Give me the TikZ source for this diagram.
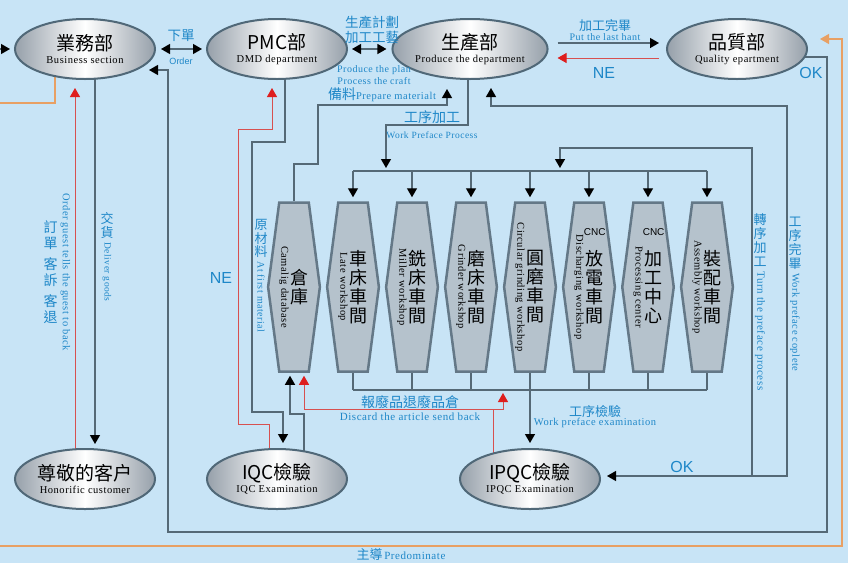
\documentclass[tikz,border=0pt]{standalone}
\usepackage{fontspec}
\usepackage{graphicx}
\setmainfont{Liberation Serif}[LetterSpace=5]
\newfontfamily\cjk{Noto Sans CJK TC}
\newfontfamily\arial{Liberation Sans}
\usetikzlibrary{arrows.meta,shapes.geometric,shapes.symbols,backgrounds}

\definecolor{bgblue}{RGB}{200,228,246}
\definecolor{ellgray}{RGB}{150,160,170}
\definecolor{elledge}{RGB}{80,104,120}
\definecolor{hexfill}{RGB}{181,194,204}
\definecolor{hexedge}{RGB}{100,120,135}
\definecolor{linegray}{RGB}{85,105,118}
\definecolor{lblue}{RGB}{30,135,200}
\definecolor{linered}{RGB}{215,80,80}
\definecolor{tipred}{RGB}{222,30,30}
\definecolor{lineorng}{RGB}{232,160,100}

\newcommand{\vc}[1]{$\vcenter{\hbox{#1}}$}
\newcommand{\rot}[1]{\rotatebox{-90}{#1}}
\newcommand{\cnt}[2]{{\cjk\fontsize{#1}{#1}\selectfont #2}}
\newcommand{\ent}[2]{{\rmfamily\fontsize{#1}{#1}\selectfont #2}}
\newcommand{\cstack}[2]{\vbox{\baselineskip=#1\lineskiplimit=-\maxdimen\let\\\cr\halign{\hfil##\hfil\cr#2\crcr}}}
\newcommand{\shop}[2]{\vc{\rot{\ent{10.5}{#1}}}\hspace{2pt}\vc{\cjk\fontsize{18}{18}\selectfont\cstack{19pt}{#2}}}
\newcommand{\vlab}[4]{\cstack{#1}{#2\\\noalign{\vskip-9pt}\rot{\ent{#3}{#4}}}}
\newcommand{\cnc}{\makebox[0pt][l]{\makebox[18pt]{\raisebox{30pt}[0pt][0pt]{\arial\fontsize{10}{10}\selectfont CNC}}}}

\tikzset{
  ellbox/.style={ellipse, draw=elledge, line width=2pt, left color=ellgray,
    right color=ellgray, middle color=white, minimum width=140pt,
    minimum height=60pt, inner sep=0pt, align=center,
    font=\fontsize{10.5}{12.5}\selectfont},
  hexbox/.style={signal, signal to=west and east, signal pointer angle=165,
    draw=hexedge, line width=2.5pt, fill=hexfill, minimum width=51pt,
    minimum height=169pt, inner sep=0pt},
  gline/.style={draw=linegray, line width=1.3pt},
  rline/.style={draw=linered, line width=1pt},
  oline/.style={draw=lineorng, line width=1.2pt},
  arr/.style={-{Triangle[width=10pt,length=9pt,color=black]}},
  darr/.style={{Triangle[width=10pt,length=9pt,color=black]}-{Triangle[width=10pt,length=9pt,color=black]}},
  rarr/.style={-{Triangle[width=10pt,length=9pt,color=tipred]}},
  oarr/.style={-{Triangle[width=10pt,length=9pt,color=lineorng]}},
  lbl/.style={text=lblue, inner sep=0pt, align=center},
}

\begin{document}
\begin{tikzpicture}[x=1pt,y=-1pt]
\useasboundingbox (0,0) rectangle (848,563);

% departments
\node[ellbox] (ywb) at (85,49) {\cnt{19}{業務部}\\Business section};
\node[ellbox] (pmc) at (277,49) {\cnt{19}{PMC部}\\DMD department};
\node[ellbox] (scb) at (470,49) {\cnt{19}{生產部}\\Produce the department};
\node[ellbox] (pzb) at (737,49) {\cnt{19}{品質部}\\Quality epartment};

\node[ellbox] (kh) at (85,479) {\cnt{19}{尊敬的客户}\\Honorific customer};
\node[ellbox] (iqc) at (277,479) {\cnt{19}{IQC檢驗}\\IQC Examination};
\node[ellbox] (ipqc) at (530,479) {\cnt{19}{IPQC檢驗}\\IPQC Examination};

% workshops
\node[hexbox] (ck) at (294,287) {\shop{Camalig database}{倉\\庫}};
\node[hexbox] (s1) at (353,287) {\shop{Late workshop}{車\\床\\車\\間}};
\node[hexbox] (s2) at (412,287) {\shop{Miller workshop}{銑\\床\\車\\間}};
\node[hexbox] (s3) at (471,287) {\shop{Grinder workshop}{磨\\床\\車\\間}};
\node[hexbox] (s4) at (530,287) {\shop{Circular grinding workshop}{圓\\磨\\車\\間}};
\node[hexbox] (s5) at (589,287) {\shop{Discharging workshop}{\cnc 放\\電\\車\\間}};
\node[hexbox] (s6) at (648,287) {\shop{Processing center}{\cnc 加\\工\\中\\心}};
\node[hexbox] (s7) at (707,287) {\shop{Assembly workshop}{裝\\配\\車\\間}};

% labels
\node[lbl] (xd) at (181,36) {\cnt{13.5}{下單}};
\node[lbl,font=\arial\fontsize{9}{9}\selectfont] (od) at (181,61) {Order};
\node[lbl,font=\cjk\fontsize{13.5}{15.5}\selectfont] (jh) at (372,30) {生產計劃\\加工工藝};
\node[lbl,font=\fontsize{10}{11.5}\selectfont] (pp) at (374,75) {Produce the plan\\Process the craft};
\node[lbl,font=\fontsize{10}{10}\selectfont] (wb) at (605,30) {\cnt{13}{加工完畢}\\Put the last hant};
\node[lbl,font=\arial\fontsize{16}{16}\selectfont] (ne1) at (604,73) {NE};
\node[lbl,font=\arial\fontsize{16}{16}\selectfont] (ok1) at (811,73) {OK};
\node[lbl] (bl) at (382,95) {\cnt{14}{備料}\ent{10.5}{Prepare materialt}};
\node[lbl,font=\fontsize{9.5}{16}\selectfont] (gx) at (432,125) {\cnt{14}{工序加工}\\Work Preface Process};
\node[lbl] (dd) at (57,272) {\vc{\cjk\fontsize{14}{14}\selectfont\cstack{16pt}{訂\\單\\\noalign{\vskip5pt}客\\訴\\\noalign{\vskip5pt}客\\退}}\hspace{3pt}\vc{\rot{\ent{10.5}{Order guest tells the guest to back}}}};
\node[lbl,font=\cjk\fontsize{13}{13}\selectfont] (jhv) at (107,257) {\vlab{14pt}{交\\貨}{9.5}{Deliver goods}};
\node[lbl,font=\cjk\fontsize{13}{13}\selectfont] (ycl) at (261,276) {\vlab{13.5pt}{原\\材\\料}{10}{At first material}};
\node[lbl,font=\arial\fontsize{16}{16}\selectfont] (ne2) at (221,278) {NE};
\node[lbl,font=\cjk\fontsize{13}{13}\selectfont] (zx) at (760,302) {\vlab{14pt}{轉\\序\\加\\工}{11}{Turn the preface process}};
\node[lbl,font=\cjk\fontsize{13}{13}\selectfont] (wc) at (795,294) {\vlab{14pt}{工\\序\\完\\畢}{10.5}{Work preface coplete}};
\node[lbl,font=\fontsize{11}{13.5}\selectfont] (bf) at (410,408) {\cnt{14}{報廢品退廢品倉}\\Discard the article send back};
\node[lbl,font=\fontsize{10.5}{9}\selectfont] (gj) at (595,417) {\cnt{13}{工序檢驗}\\Work preface examination};
\node[lbl,font=\arial\fontsize{16}{16}\selectfont] (ok2) at (682,467) {OK};
\node[lbl] (zd) at (401,555) {\cnt{13}{主導}\,\ent{11}{Predominate}};

% junctions
\coordinate (tb) at (0,171);
\coordinate (bb) at (0,390);
\coordinate (lin) at (0,49);
\coordinate (ol) at (0,103);
\coordinate (ob) at (0,546);
\coordinate (wp) at (386,171);
\coordinate (rw) at (560,171);
\coordinate (rj) at (493,409);
\coordinate (rb) at (503,390);
\coordinate (okj) at (752,476);

\begin{pgfonlayer}{background}
\fill[bgblue] (0,0) rectangle (848,563);

\draw[gline,arr,shorten >=4pt] (lin) -- (ywb);
\draw[gline,darr,shorten <=5pt,shorten >=4pt] (ywb) -- (pmc);
\draw[gline,darr,shorten <=4pt,shorten >=5pt] (pmc) -- (scb);
\draw[gline,arr,shorten <=9pt,shorten >=7pt] ([yshift=6pt]scb.east) -- ([yshift=6pt]pzb.west);
\draw[rline,rarr,shorten <=7pt,shorten >=9pt] ([yshift=-9pt]pzb.west) -- ([yshift=-9pt]scb.east);
\draw[gline,arr] ([yshift=-8pt]pzb.center) -| (827,532) -| (168,70) -- ([yshift=-21pt,xshift=-7pt]ywb.east);

\draw[oline] ([xshift=-30pt]ywb.center) |- (ol);
\draw[oline,oarr] (ob) -| (842,39) -- ([yshift=10pt,xshift=12pt]pzb.east);

\draw[gline,arr,shorten >=4pt] ([xshift=10pt]ywb.center) -- ([xshift=10pt]kh.north);
\draw[rline,rarr] ([xshift=-10pt]kh.center) -- ([xshift=-10pt,yshift=-8pt]ywb.south);

\draw[gline,arr] ([xshift=8pt]pmc.center) |- (252,142) -- (252,412) -| ([xshift=6pt,yshift=5pt]iqc.north);
\draw[rline,rarr] ([xshift=-8pt]iqc.center) |- (238,424) -- (238,129) -| ([xshift=-5pt,yshift=-8pt]pmc.south);
\draw[gline,arr] ([xshift=27pt]iqc.center) |- (290,414) -- ([xshift=-4pt,yshift=-3pt]ck.south);

\draw[rline,rarr] ([xshift=-37pt]ipqc.center) -- (rj) -| ([xshift=10pt,yshift=-3pt]ck.south);
\draw[rline,rarr] (rj) -| ([yshift=-3pt]rb);

\draw[gline,arr] (ck.north) -- (294,164) -| (318,105) -| ([xshift=-23pt,yshift=-9pt]scb.south);
\draw[gline,arr] ([xshift=-2pt]scb.center) |- (386,125) -- ([yshift=3pt]wp);

\draw[gline,darr] ([xshift=21pt,yshift=-8pt]scb.south) |- (787,106) |- ([xshift=6pt,yshift=3pt]ipqc.east);
\draw[gline,arr] (okj) |- (560,148) -- ([yshift=3pt]rw);

% buses
\draw[gline] (s1 |- tb) -- (s7 |- tb);
\draw[gline] (s1 |- bb) -- (s7 |- bb);
\foreach \i in {1,...,7} {
  \draw[gline,arr,shorten >=4pt] (s\i |- tb) -- (s\i.north);
  \draw[gline] (s\i.south) -- (s\i |- bb);
}
\draw[gline,arr,shorten >=5pt] (s4 |- bb) -- (ipqc.north);
\end{pgfonlayer}
\end{tikzpicture}
\end{document}
